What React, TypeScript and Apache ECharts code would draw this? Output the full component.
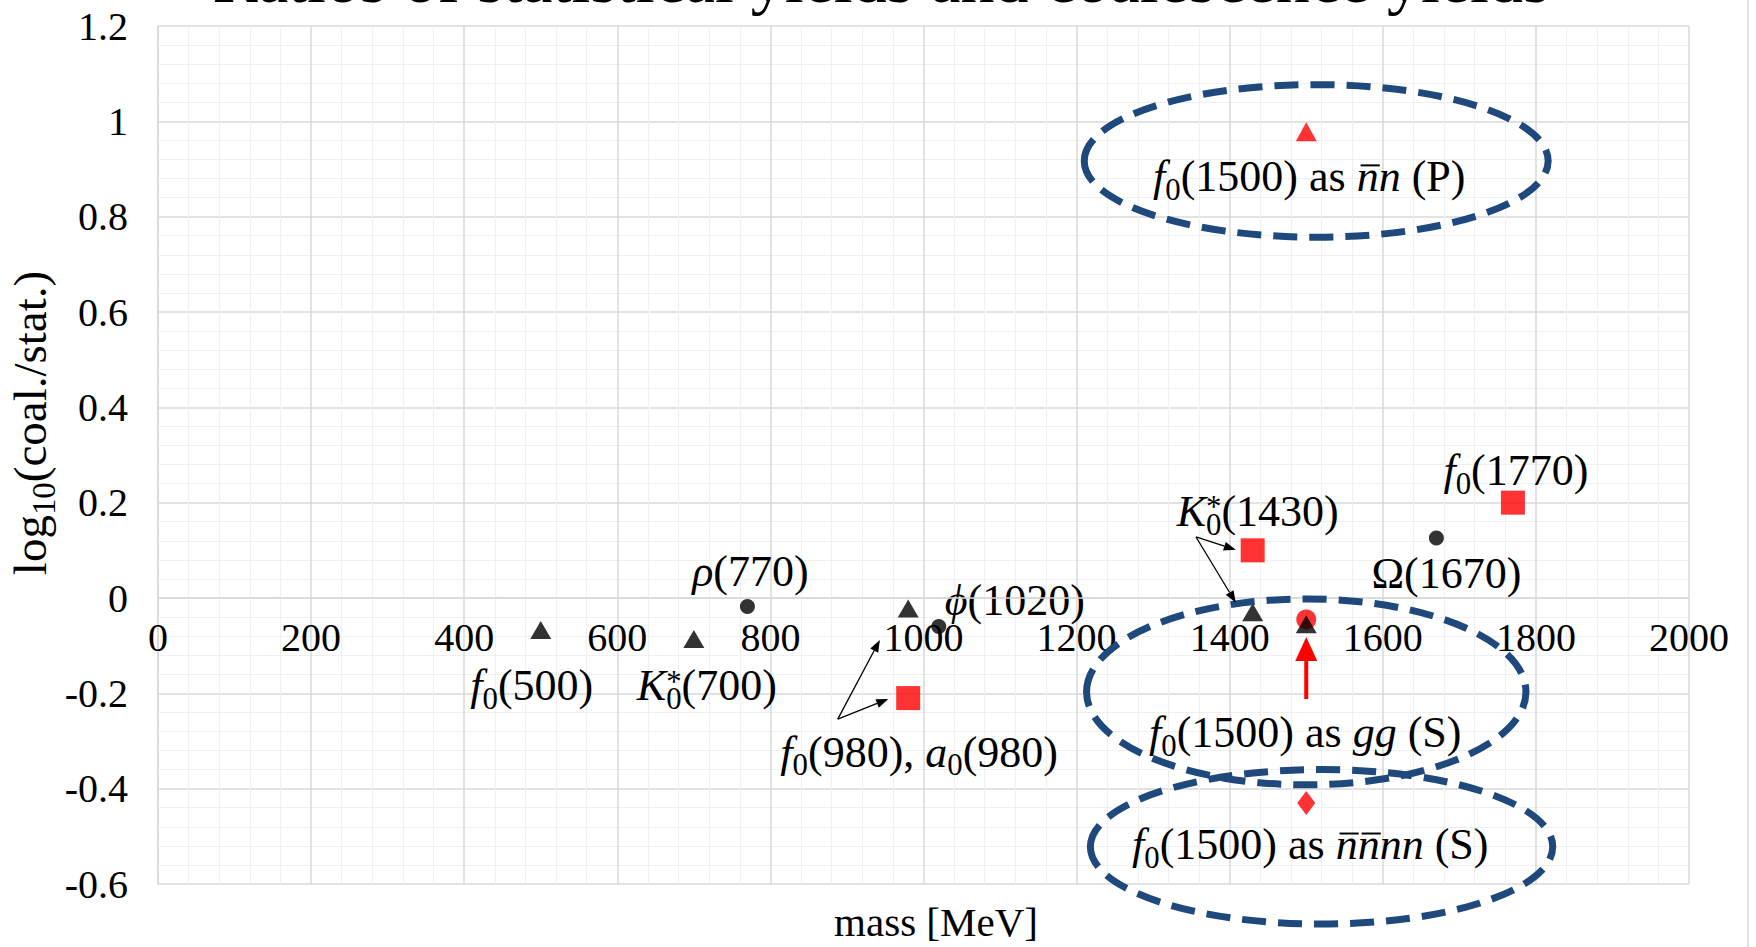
import React, { useEffect, useRef } from "react";
import * as echarts from "echarts";

// Axis ranges and tick spacing
const massMin = 0;
const massMax = 2000;
const massStep = 200;
const ratioMin = -0.6;
const ratioMax = 1.2;
const ratioStep = 0.2;

// Black triangles: f0(500), K0*(700), a0(980), K0*(1430), f0(1500)
const triMass = [500, 700, 980, 1430, 1500];
const triRatio = [-0.067, -0.086, -0.022, -0.03, -0.055];
// Black circles: rho(770), phi(1020), Omega(1670)
const dotMass = [770, 1020, 1670];
const dotRatio = [-0.018, -0.06, 0.126];
// Red squares: f0(980), K0*(1430), f0(1770)
const sqMass = [980, 1430, 1770];
const sqRatio = [-0.21, 0.1, 0.2];
// f0(1500) under three structure assumptions
const f0Mass = [1500];
const f0AsNnP = [0.978];
const f0AsGgS = [-0.045];
const f0AsTetraS = [-0.43];

const SERIF = '"Liberation Serif", "Times New Roman", serif';
const INK = "#000000";
const RED = "#ff0000";
const RING = "#1f497d";
const GRID_MAJOR = "#d9d9d9";
const GRID_MINOR = "#f0f0f0";

type Seg = { t: string; it?: boolean; sub?: boolean; sup?: string; bar?: boolean };
const I = (t: string): Seg => ({ t, it: true });
const R = (t: string): Seg => ({ t });
const SUB = (t: string, sup?: string): Seg => ({ t, sub: true, sup });
const BAR = (t: string): Seg => ({ t, it: true, bar: true });

const f0 = (m: string) => [I("f"), SUB("0"), R(`(${m})`)];
const k0 = (m: string) => [I("K"), SUB("0", "*"), R(`(${m})`)];

// Particle labels, anchored to a point with a pixel offset
const labels: { at: number[]; dx: number; dy: number; segs: Seg[] }[] = [
  { at: [triMass[0], triRatio[0]], dx: -9, dy: 56, segs: f0("500") },
  { at: [triMass[1], triRatio[1]], dx: 13, dy: 47, segs: k0("700") },
  { at: [dotMass[0], dotRatio[0]], dx: 3, dy: -35, segs: [I("ρ"), R("(770)")] },
  { at: [dotMass[1], dotRatio[1]], dx: 76, dy: -26, segs: [I("ϕ"), R("(1020)")] },
  {
    at: [sqMass[0], sqRatio[0]],
    dx: 11,
    dy: 54,
    segs: [I("f"), SUB("0"), R("(980), "), I("a"), SUB("0"), R("(980)")],
  },
  { at: [sqMass[1], sqRatio[1]], dx: 5, dy: -39, segs: k0("1430") },
  { at: [dotMass[2], dotRatio[2]], dx: 10, dy: 36, segs: [R("Ω(1670)")] },
  { at: [sqMass[2], sqRatio[2]], dx: 3, dy: -32, segs: f0("1770") },
  {
    at: [f0Mass[0], f0AsNnP[0]],
    dx: 3,
    dy: 45,
    segs: [...f0("1500"), R(" as "), BAR("n"), I("n"), R(" (P)")],
  },
  {
    at: [f0Mass[0], f0AsGgS[0]],
    dx: -1,
    dy: 113,
    segs: [...f0("1500"), R(" as "), I("gg"), R(" (S)")],
  },
  {
    at: [f0Mass[0], f0AsTetraS[0]],
    dx: 4,
    dy: 42,
    segs: [...f0("1500"), R(" as "), BAR("n"), BAR("n"), I("nn"), R(" (S)")],
  },
];

// Dashed rings around the f0(1500) variants: centre and radii in axis units
const rings = [
  { c: [1513, 0.917], rx: 303, ry: 0.16 },
  { c: [1500, -0.197], rx: 287, ry: 0.195 },
  { c: [1520, -0.522], rx: 302, ry: 0.162 },
];

// Pointer arrows in axis units
const pointers = [
  { from: [888, -0.254], to: [943, -0.088] },
  { from: [888, -0.254], to: [954, -0.212] },
  { from: [1356, 0.128], to: [1408, 0.101] },
  { from: [1356, 0.128], to: [1408, -0.01] },
];
const redArrow = { from: [1500, -0.212], to: [1500, -0.082] };

function makeMeasure() {
  const ctx = document.createElement("canvas").getContext("2d")!;
  return (text: string, size: number, italic: boolean) => {
    ctx.font = `${italic ? "italic " : ""}${size}px ${SERIF}`;
    return ctx.measureText(text).width;
  };
}

function textEl(text: string, x: number, y: number, size: number, italic: boolean, color: string) {
  return {
    type: "text",
    x,
    y,
    silent: true,
    style: {
      text,
      fontSize: size,
      fontFamily: SERIF,
      fontStyle: italic ? "italic" : "normal",
      fill: color,
      align: "left",
      verticalAlign: "middle",
    },
  };
}

// Lays out a run of segments on a common baseline (y = 0), centred on x = 0
function buildRun(segs: Seg[], size: number, color: string, measure: ReturnType<typeof makeMeasure>) {
  const els: any[] = [];
  let x = 0;
  for (const s of segs) {
    const sz = s.sub ? size * 0.7 : size;
    let w = measure(s.t, sz, !!s.it);
    const base = s.sub ? size * 0.2 : 0;
    els.push(textEl(s.t, x, base - 0.34 * sz, sz, !!s.it, color));
    if (s.sup) {
      const sw = measure(s.sup, sz, false);
      els.push(textEl(s.sup, x, -size * 0.2 - 0.34 * sz, sz, false, color));
      w = Math.max(w, sw);
    }
    if (s.bar) {
      els.push({
        type: "line",
        silent: true,
        shape: { x1: x + w * 0.18, y1: -size * 0.6, x2: x + w * 1.05, y2: -size * 0.6 },
        style: { stroke: color, lineWidth: Math.max(1.5, size * 0.045) },
      });
    }
    x += w;
  }
  const half = x / 2;
  for (const e of els) {
    if (e.type === "text") e.x -= half;
    else {
      e.shape.x1 -= half;
      e.shape.x2 -= half;
    }
  }
  return els;
}

function arrowEls(p0: number[], p1: number[], headLen: number, headW: number, color: string, lw: number) {
  const dx = p1[0] - p0[0];
  const dy = p1[1] - p0[1];
  const L = Math.hypot(dx, dy) || 1;
  const ux = dx / L;
  const uy = dy / L;
  const bx = p1[0] - ux * headLen;
  const by = p1[1] - uy * headLen;
  const nx = -uy;
  const ny = ux;
  return [
    {
      type: "line",
      silent: true,
      z: 20,
      shape: { x1: p0[0], y1: p0[1], x2: bx, y2: by },
      style: { stroke: color, lineWidth: lw },
    },
    {
      type: "polygon",
      silent: true,
      z: 20,
      shape: {
        points: [
          [p1[0], p1[1]],
          [bx + (nx * headW) / 2, by + (ny * headW) / 2],
          [bx - (nx * headW) / 2, by - (ny * headW) / 2],
        ],
      },
      style: { fill: color },
    },
  ];
}

const pairs = (xs: number[], ys: number[]) => xs.map((x, i) => [x, ys[i]]);

export default function App() {
  const ref = useRef<HTMLDivElement>(null);

  useEffect(() => {
    if (!ref.current) return;
    const chart = echarts.init(ref.current, null, { renderer: "svg" });
    const axisText = { color: INK, fontSize: 40, fontFamily: SERIF };

    chart.setOption({
      animation: false,
      backgroundColor: "#ffffff",
      grid: { left: 158, right: 67, top: 26, bottom: 63, containLabel: false, outerBoundsMode: "none" },
      xAxis: {
        type: "value",
        min: massMin,
        max: massMax,
        interval: massStep,
        offset: 0,
        axisLine: { show: true, onZero: false, lineStyle: { color: GRID_MAJOR, width: 1.5 } },
        axisTick: { show: false },
        axisLabel: { ...axisText, margin: 19, formatter: (v: number) => String(v) },
        splitLine: { show: true, lineStyle: { color: GRID_MAJOR, width: 1.5 } },
        minorTick: { show: false, splitNumber: 5 },
        minorSplitLine: { show: true, lineStyle: { color: GRID_MINOR, width: 1.2 } },
      },
      yAxis: {
        type: "value",
        min: ratioMin,
        max: ratioMax,
        interval: ratioStep,
        axisLine: { show: true, onZero: false, lineStyle: { color: GRID_MAJOR, width: 1.5 } },
        axisTick: { show: false },
        axisLabel: {
          ...axisText,
          margin: 30,
          formatter: (v: number) => String(Math.round(v * 10) / 10),
        },
        splitLine: { show: true, lineStyle: { color: GRID_MAJOR, width: 1.5 } },
        minorTick: { show: false, splitNumber: 5 },
        minorSplitLine: { show: true, lineStyle: { color: GRID_MINOR, width: 1.2 } },
      },
      series: [
        {
          type: "scatter",
          silent: true,
          z: 3,
          symbol: "circle",
          symbolSize: 20,
          itemStyle: { color: RED },
          data: pairs(f0Mass, f0AsGgS),
        },
        {
          type: "scatter",
          silent: true,
          z: 4,
          symbol: "triangle",
          symbolSize: [21, 18],
          itemStyle: { color: INK },
          data: pairs(triMass, triRatio),
        },
        {
          type: "scatter",
          silent: true,
          z: 4,
          symbol: "circle",
          symbolSize: 15,
          itemStyle: { color: INK },
          data: pairs(dotMass, dotRatio),
        },
        {
          type: "scatter",
          silent: true,
          z: 4,
          symbol: "rect",
          symbolSize: 24,
          itemStyle: { color: RED },
          data: pairs(sqMass, sqRatio),
        },
        {
          type: "scatter",
          silent: true,
          z: 4,
          symbol: "triangle",
          symbolSize: [21, 19],
          itemStyle: { color: RED },
          data: pairs(f0Mass, f0AsNnP),
        },
        {
          type: "scatter",
          silent: true,
          z: 4,
          symbol: "diamond",
          symbolSize: [18, 24],
          itemStyle: { color: RED },
          data: pairs(f0Mass, f0AsTetraS),
        },
      ],
    });

    const px = (p: number[]) => chart.convertToPixel({ gridIndex: 0 }, p) as number[];

    // Mass axis crosses the ratio axis at zero
    const zeroY = px([massMin, 0])[1];
    const bottomY = px([massMin, ratioMin])[1];
    chart.setOption({ xAxis: { offset: -(bottomY - zeroY) } });

    const measure = makeMeasure();
    const LABEL = 44;
    const elements: any[] = [];

    // Chart title, running off the top edge
    elements.push({
      type: "group",
      x: 881,
      y: 2,
      children: buildRun([R("Ratios of statistical yields and coalescence yields")], 68, INK, measure),
    });

    // Axis titles
    elements.push({
      type: "group",
      x: 936,
      y: 922 + 0.34 * 41,
      children: buildRun([R("mass [MeV]")], 41, INK, measure),
    });
    elements.push({
      type: "group",
      x: 46,
      y: 423,
      rotation: Math.PI / 2,
      children: buildRun([R("log"), SUB("10"), R("(coal./stat.)")], 47, INK, measure),
    });

    for (const lb of labels) {
      const p = px(lb.at);
      elements.push({
        type: "group",
        x: p[0] + lb.dx,
        y: p[1] + lb.dy + 0.34 * LABEL,
        z: 15,
        children: buildRun(lb.segs, LABEL, INK, measure),
      });
    }

    for (const r of rings) {
      const c = px(r.c);
      const ex = px([r.c[0] + r.rx, r.c[1]]);
      const ey = px([r.c[0], r.c[1] + r.ry]);
      elements.push({
        type: "ellipse",
        silent: true,
        z: 10,
        shape: { cx: c[0], cy: c[1], rx: Math.abs(ex[0] - c[0]), ry: Math.abs(c[1] - ey[1]) },
        style: { fill: "none", stroke: RING, lineWidth: 7, lineDash: [24, 12] },
      });
    }

    for (const a of pointers) elements.push(...arrowEls(px(a.from), px(a.to), 12, 9, INK, 1.3));
    elements.push(...arrowEls(px(redArrow.from), px(redArrow.to), 24, 22, RED, 4));

    // Right-hand frame of the chart area
    elements.push({
      type: "line",
      silent: true,
      shape: { x1: 1748, y1: 0, x2: 1748, y2: 947 },
      style: { stroke: GRID_MAJOR, lineWidth: 1.5 },
    });

    chart.setOption({ graphic: { elements } });

    return () => chart.dispose();
  }, []);

  return (
    <div
      ref={ref}
      style={{ position: "fixed", left: 0, top: 0, width: 1756, height: 947, background: "#ffffff" }}
    />
  );
}
